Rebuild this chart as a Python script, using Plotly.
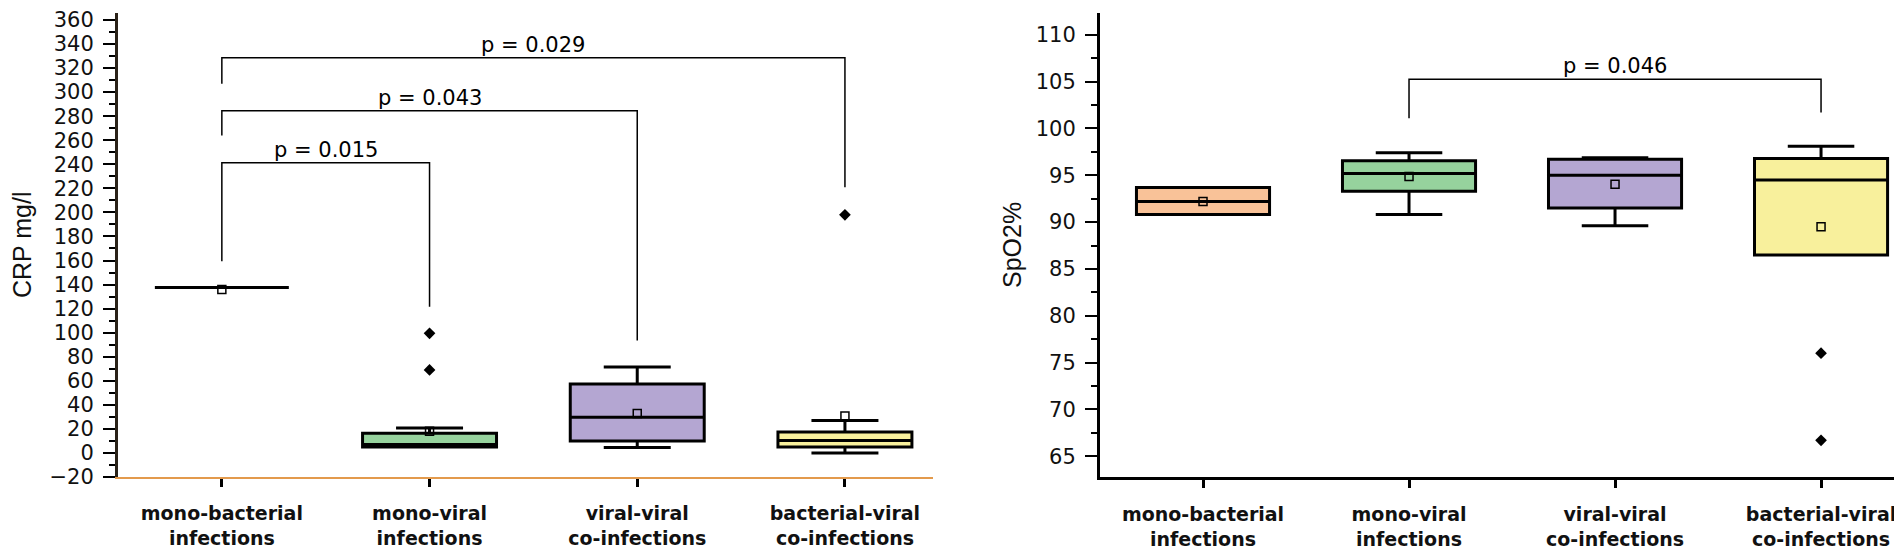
import plotly.graph_objects as go

# categories
groups = ['mono-bacterial<br>infections', 'mono-viral<br>infections',
          'viral-viral<br>co-infections', 'bacterial-viral<br>co-infections']
fills = ['#f9c298', '#96d29d', '#b4a6d2', '#f8f09c']

# CRP mg/l box statistics
crp_q1 = [137.5, 5.0, 9.9, 5.0]
crp_median = [137.5, 7.0, 29.6, 10.4]
crp_q3 = [137.5, 16.4, 57.3, 17.5]
crp_low = [137.5, 5.0, 4.6, 0.0]
crp_high = [137.5, 20.8, 71.5, 27.0]
crp_mean = [136.0, 18.0, 32.9, 30.7]
crp_out_x = [1, 1, 3]
crp_out_y = [99.5, 69.0, 198.0]
# brackets: left group, right group, top, left foot, right foot, label
crp_brackets = [
    (0, 1, 241.3, 159.3, 121.5, 'p = 0.015'),
    (0, 2, 284.6, 264.0, 93.5, 'p = 0.043'),
    (0, 3, 328.5, 307.0, 221.0, 'p = 0.029'),
]

# SpO2% box statistics
spo_q1 = [90.8, 93.3, 91.5, 86.5]
spo_median = [92.2, 95.2, 95.0, 94.5]
spo_q3 = [93.7, 96.55, 96.7, 96.8]
spo_low = [90.8, 90.8, 89.6, 86.5]
spo_high = [93.7, 97.4, 96.87, 98.1]
spo_mean = [92.2, 94.86, 94.05, 89.5]
spo_out_x = [3, 3]
spo_out_y = [76.0, 66.7]
spo_brackets = [
    (1, 3, 105.25, 101.1, 101.7, 'p = 0.046'),
]

# the page body adds an 8px margin, so the figure is sized to fit the window
OFF = 8
W, H = 1902 - OFF, 557 - OFF
fig = go.Figure()


def px(x):
    return (x - OFF) / W


def add_panel(xa, ya, q1, med, q3, low, high, mean, ox, oy, brackets, bw):
    for i in range(len(groups)):
        fig.add_trace(go.Box(
            x=[i], q1=[q1[i]], median=[med[i]], q3=[q3[i]],
            lowerfence=[low[i]], upperfence=[high[i]],
            width=bw, whiskerwidth=0.5, fillcolor=fills[i],
            line=dict(color='black', width=3), boxpoints=False,
            xaxis=xa, yaxis=ya, showlegend=False))
    fig.add_trace(go.Scatter(
        x=list(range(len(groups))), y=mean, mode='markers',
        marker=dict(symbol='square-open', size=8, color='black',
                    line=dict(width=1.5)),
        xaxis=xa, yaxis=ya, showlegend=False))
    fig.add_trace(go.Scatter(
        x=ox, y=oy, mode='markers',
        marker=dict(symbol='diamond', size=9, color='black'),
        xaxis=xa, yaxis=ya, showlegend=False))
    for a, b, top, fa, fb, label in brackets:
        fig.add_trace(go.Scatter(
            x=[a, a, b, b], y=[fa, top, top, fb], mode='lines',
            line=dict(color='black', width=1.5),
            xaxis=xa, yaxis=ya, showlegend=False, hoverinfo='skip'))
        fig.add_annotation(
            x=(a + b) / 2, y=top, xref=xa, yref=ya, text=label,
            showarrow=False, yanchor='bottom', yshift=-1,
            font=dict(family='DejaVu Sans', size=21, color='black'))


add_panel('x', 'y', crp_q1, crp_median, crp_q3, crp_low, crp_high,
          crp_mean, crp_out_x, crp_out_y, crp_brackets, 0.645)
add_panel('x2', 'y2', spo_q1, spo_median, spo_q3, spo_low, spo_high,
          spo_mean, spo_out_x, spo_out_y, spo_brackets, 0.646)

tick_font = dict(family='DejaVu Sans', size=21, color='#111')
cat_font = dict(family='DejaVu Sans', size=19, color='#111', weight='bold')

xcommon = dict(tickvals=list(range(len(groups))), ticktext=groups,
               ticks='outside', ticklen=8, tickwidth=2.5, tickcolor='black',
               showline=True, showgrid=False, zeroline=False,
               tickfont=cat_font, ticklabelstandoff=10)
ycommon = dict(ticks='outside', ticklen=12, tickwidth=2, tickcolor='black',
               showline=True, showgrid=False, zeroline=False,
               tickfont=tick_font, ticklabelstandoff=5,
               ticklabeloverflow='allow')

fig.update_layout(
    width=W, height=H,
    margin=dict(l=0, r=0, t=0, b=80),
    plot_bgcolor='white', paper_bgcolor='white',
    boxmode='overlay',
    xaxis=dict(domain=[px(118), px(933)], range=[-0.5, 3.424],
               linecolor='#e39a4c', linewidth=2, anchor='y', **xcommon),
    yaxis=dict(domain=[0, 1], range=[-20, 365.8], dtick=20, tick0=0,
               linecolor='#2a2218', linewidth=3, anchor='x',
               minor=dict(dtick=10, ticks='outside', ticklen=6,
                          tickwidth=2, tickcolor='black'), **ycommon),
    xaxis2=dict(domain=[px(1100), 1], range=[-0.5, 3.393],
                linecolor='black', linewidth=3, anchor='y2', **xcommon),
    yaxis2=dict(domain=[0, 1], range=[62.78, 112.33], dtick=5, tick0=0,
                linecolor='black', linewidth=3, anchor='x2',
                minor=dict(dtick=2.5, ticks='outside', ticklen=6,
                           tickwidth=2, tickcolor='black'), **ycommon),
)

fig.add_annotation(x=px(22), y=0.5, xref='paper', yref='paper',
                   text='CRP mg/l', textangle=-90, showarrow=False,
                   xanchor='center', yanchor='middle',
                   font=dict(family='Liberation Sans', size=25, color='#111'))
fig.add_annotation(x=px(1012), y=0.5, xref='paper', yref='paper',
                   text='SpO2%', textangle=-90, showarrow=False,
                   xanchor='center', yanchor='middle',
                   font=dict(family='Liberation Sans', size=25, color='#111'))

fig.write_html('out.html')
